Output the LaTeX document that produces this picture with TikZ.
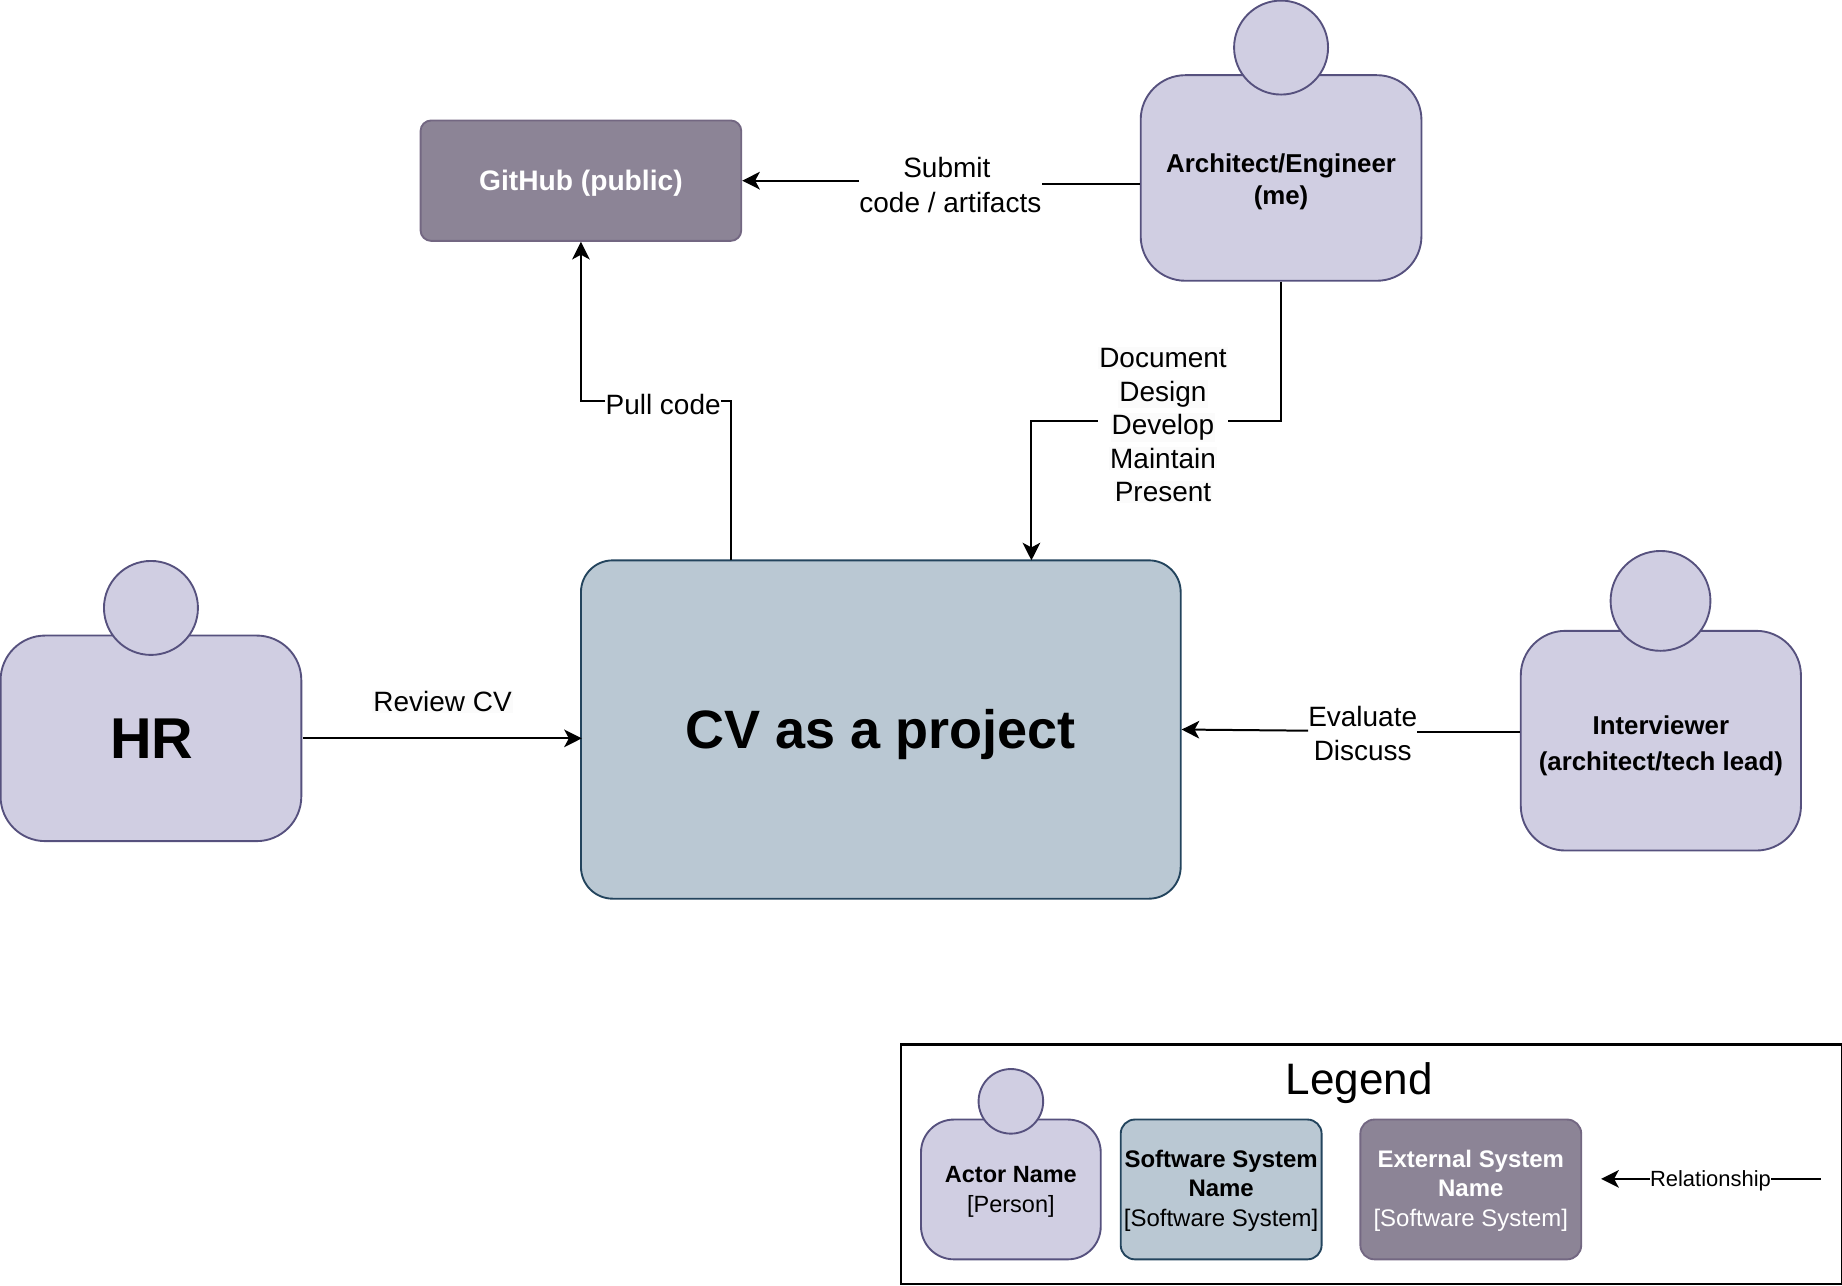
\documentclass[tikz,border=0pt]{standalone}
\usepackage{fontspec}
\setmainfont{Liberation Sans}
\usetikzlibrary{arrows.meta}
\definecolor{actorfill}{HTML}{D0CEE2}
\definecolor{actorline}{HTML}{56517E}
\definecolor{systemfill}{HTML}{BAC8D3}
\definecolor{systemline}{HTML}{23445D}
\definecolor{externalfill}{HTML}{8C8496}
\definecolor{externalline}{HTML}{736782}
\definecolor{labelback}{HTML}{FBFBFB}
\newcommand{\fsize}[2]{\fontsize{#1}{#2}\selectfont}
\newcommand{\lineback}[1]{{\setlength{\fboxsep}{1pt}\colorbox{labelback}{#1}}}
\newcommand{\dropstrut}[1]{\rule{0pt}{#1}}
\tikzset{
   actorbody/.style={draw=actorline,fill=actorfill,line width=1.6pt,rounded corners=38pt,
      inner sep=0pt,align=center,font=\fsize{22}{27}},
   actorhead/.style={draw=actorline,fill=actorfill,line width=1.6pt,circle,inner sep=0pt},
   systembox/.style={draw=systemline,fill=systemfill,line width=1.6pt,rounded corners=27pt,
      inner sep=0pt,align=center},
   externalbox/.style={draw=externalline,fill=externalfill,line width=1.6pt,rounded corners=9pt,
      inner sep=0pt,align=center,text=white},
   rellabel/.style={inner sep=0pt,align=center,font=\fsize{23.8}{29}},
   relline/.style={line width=1.7pt,-{Stealth[length=15pt,width=15pt,inset=4pt]}},
   plainline/.style={line width=1.7pt},
}
\begin{document}
\begin{tikzpicture}[x=1pt,y=-1pt]
    \useasboundingbox (0,0) rectangle (1568,1094.7);
    % main boxes
    \node[externalbox,minimum width=273pt,minimum height=102.5pt,font=\fsize{24}{29}\bfseries]
       (github) at (494.5,153.8) {\dropstrut{22.5pt}GitHub (public)};
    \node[systembox,minimum width=510.5pt,minimum height=288pt,font=\fsize{46}{56}\bfseries]
       (cv) at (749.8,621) {\dropstrut{41.6pt}CV as a project};
    % actors
    \node[actorbody,minimum width=239pt,minimum height=175pt] (arch) at (1090.5,151.5)
       {\dropstrut{23pt}\textbf{Architect/Engineer}\\\textbf{(me)}};
    \node[actorhead,minimum size=80pt] (archhead) at (1090.5,40.5) {};
    \node[actorbody,minimum width=256pt,minimum height=175pt,font=\fsize{49}{60}\bfseries] (hr)
       at (128.5,628.5) {\hspace{1.5pt}HR};
    \node[actorhead,minimum size=80pt] (hrhead) at (128.5,517.5) {};
    \node[actorbody,minimum width=238.5pt,minimum height=187pt,font=\fsize{22}{31}] (inter) at (1413.8,630.5)
       {\dropstrut{25pt}\textbf{Interviewer}\\\textbf{(architect/tech lead)}};
    \node[actorhead,minimum size=85pt] (interhead) at (1413.5,511.5) {};
    % relationships
    \node[rellabel] (submit) at (809,157.5) {Submit\hspace*{6pt}\\code / artifacts};
    \draw[plainline] ([yshift=-5.5pt]arch.west) -- (submit.east |- 0,157);
    \draw[relline] (submit.west |- github.east) -- (github.east);
    \node[rellabel] (pull) at (564.5,344) {Pull code};
    \draw[plainline] (622,477) |- (pull.east |- 0,341);
    \draw[relline] (pull.west |- 0,341) -| (github.south);
    \node[rellabel,font=\fsize{23.8}{28.5}] (doc) at (990,362) {\lineback{Document}\\\lineback{Design}\\\lineback{Develop}\\\lineback{Maintain}\\\lineback{Present}};
    \draw[plainline] (arch.south) |- (doc.east |- 0,358);
    \draw[relline] (doc.west |- 0,358) -| (878,477);
    \draw[relline] ([xshift=1pt]hr.east) -- ([xshift=1.5pt]hr.east -| cv.west) node[pos=0.5,above=21pt,rellabel] (review) {\lineback{Review CV}};
    \node[rellabel] (eval) at (1160,624.5) {Evaluate\\Discuss};
    \draw[plainline] ([yshift=7.5pt]inter.west) -- (eval.east |- 0,623);
    \draw[relline] (eval.west |- 0,622) -- (cv.east);
    % legend
    \node[draw,line width=2pt,minimum width=801pt,minimum height=204pt,inner sep=0pt]
       (legendbox) at (1167.5,991) {};
    \node[inner sep=0pt,font=\fsize{37.5}{45}] (legendtitle) at (1157,922) {Legend};
    \node[actorbody,minimum width=153pt,minimum height=119pt,rounded corners=28pt,font=\fsize{20}{26}]
       (legactor) at (860.5,1012.5) {\dropstrut{18pt}\textbf{Actor Name}\\{[Person]}};
    \node[actorhead,minimum size=55pt] (legactorhead) at (860.5,937.5) {};
    \node[systembox,minimum width=171pt,minimum height=119pt,rounded corners=12pt,font=\fsize{20.4}{25}]
       (legsystem) at (1039.5,1012.5) {\dropstrut{17pt}\textbf{Software System}\\\textbf{Name}\\{[Software System]}};
    \node[externalbox,minimum width=188pt,minimum height=119pt,rounded corners=12pt,font=\fsize{20.4}{25}]
       (legexternal) at (1252,1012.5) {\dropstrut{17pt}\textbf{External System}\\\textbf{Name}\\{[Software System]}};
    \coordinate (legstart) at (1550,1003.5);
    \coordinate (legend) at (1363,1003.5);
    \node[inner sep=0pt,font=\fsize{18.7}{25}] (legrel) at (1456,1005) {Relationship};
    \draw[plainline] (legstart) -- (legrel.east |- legstart);
    \draw[relline] (legrel.west |- legend) -- (legend);
\end{tikzpicture}
\end{document}
